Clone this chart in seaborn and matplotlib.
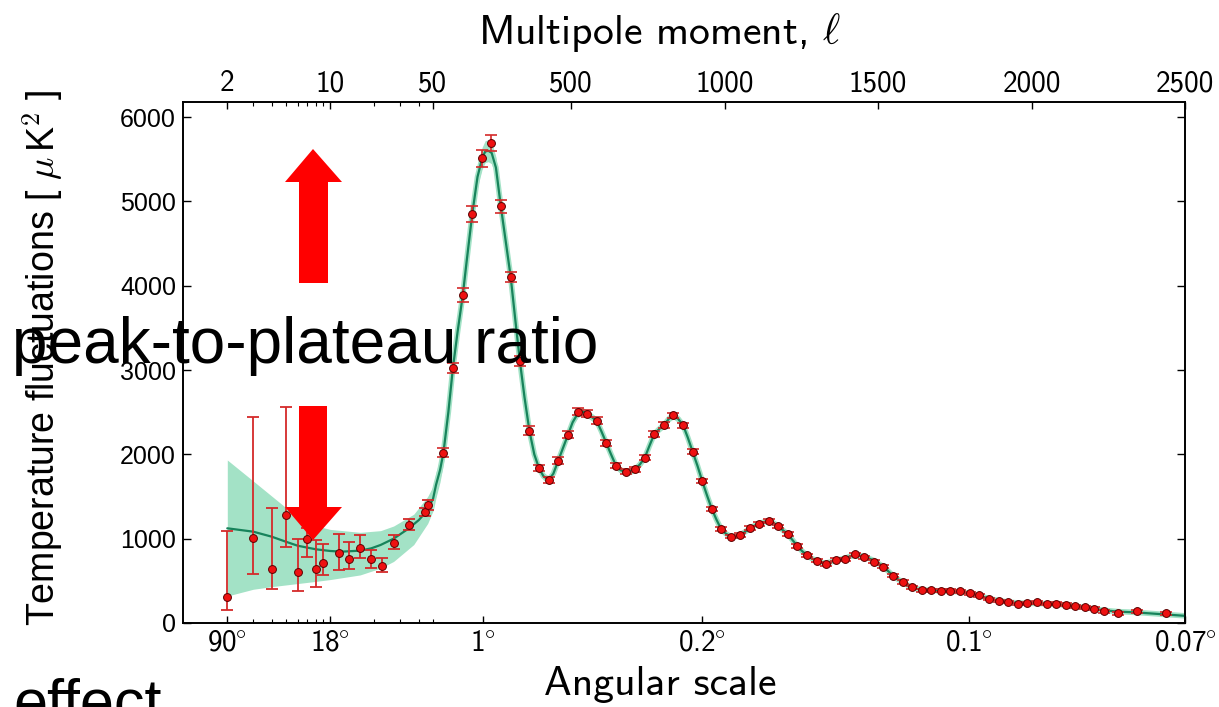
import numpy as np
import matplotlib
matplotlib.use("Agg")
import matplotlib.pyplot as plt
import seaborn as sns
from matplotlib.patches import Polygon
from matplotlib.ticker import FixedLocator, FixedFormatter, NullFormatter

# ---------------- data ----------------
# low-ell binned points with asymmetric error bars
low_l = [2, 3, 4, 5, 6, 7, 8, 9, 11.5, 13.5, 16, 19, 22.4, 27, 34.4, 44, 46.4]
low_d = [305, 1012, 644, 1281, 601, 1000, 640, 711, 834, 759, 893, 755, 680, 949, 1162, 1316, 1403]
low_hi = [1094, 2447, 1364, 2565, 996, 1130, 984, 937, 1055, 957, 1043, 866, 767, 1043, 1229, 1360, 1458]
low_lo = [154, 577, 407, 905, 383, 786, 431, 569, 628, 636, 775, 648, 601, 874, 1103, 1269, 1340]

# high-ell binned points
high_l = [84, 115, 147, 178, 210, 240, 272, 303, 333, 364, 395, 427, 458, 490, 521, 552, 583, 615,
          646, 678, 708, 740, 771, 803, 833, 865, 896, 927, 958, 988, 1020, 1051, 1082, 1113, 1145,
          1175, 1206, 1237, 1268, 1300, 1330, 1362, 1393, 1424, 1455, 1487, 1517, 1549, 1580, 1612,
          1643, 1673, 1705, 1736, 1768, 1800, 1830, 1861, 1893, 1924, 1955, 1986, 2018, 2049, 2081,
          2111, 2143, 2174, 2205, 2237, 2283, 2343, 2438]
high_d = [2019, 3028, 3886, 4854, 5510, 5688, 4941, 4107, 3107, 2281, 1838, 1696, 1925, 2233, 2506,
          2482, 2399, 2131, 1866, 1795, 1822, 1960, 2241, 2348, 2466, 2344, 2032, 1684, 1356, 1119,
          1024, 1044, 1123, 1178, 1213, 1146, 1052, 913, 802, 739, 696, 751, 755, 815, 779, 727, 668,
          561, 486, 423, 391, 387, 383, 383, 376, 352, 328, 285, 261, 249, 225, 237, 245, 225, 229,
          217, 198, 186, 170, 139, 115, 139, 115]
high_err = [55, 60, 85, 95, 100, 93, 80, 60, 55, 50,
            40, 35, 38, 40, 40, 40, 40, 35, 32, 30,
            30, 30, 30, 30, 30, 30, 30, 28, 25, 24,
            22, 22, 22, 22, 22, 22, 22,
            20, 20, 20, 20, 20, 20, 20, 20, 20, 20,
            18, 18, 18, 18, 18, 18, 18, 18, 18, 18,
            16, 16, 16, 16, 16, 16, 16, 16, 16, 16, 16, 16,
            15, 15, 15, 15]

# best-fit theory curve
theory_l = [2, 3, 4, 5, 6, 8, 10, 12, 16, 19, 22, 27, 34, 40, 44, 50, 60, 73, 84, 100, 115, 130, 147,
            160, 178, 195, 210, 220, 230, 241, 255, 271, 287, 303, 318, 333, 348, 364, 380, 395, 410,
            427, 442, 458, 474, 490, 505, 521, 537, 552, 568, 583, 599, 615, 630, 646, 662, 678, 693,
            708, 724, 740, 755, 771, 787, 803, 818, 833, 849, 865, 880, 896, 912, 927, 943, 958, 973,
            988, 1004, 1020, 1035, 1051, 1066, 1082, 1098, 1113, 1129, 1145, 1160, 1175, 1190, 1206,
            1221, 1237, 1252, 1268, 1284, 1300, 1315, 1330, 1346, 1362, 1377, 1393, 1408, 1424, 1440,
            1455, 1471, 1487, 1502, 1517, 1533, 1549, 1564, 1580, 1596, 1612, 1627, 1643, 1673, 1705,
            1736, 1768, 1800, 1830, 1861, 1893, 1924, 1955, 1986, 2018, 2049, 2081, 2111, 2143, 2174,
            2205, 2237, 2283, 2343, 2400, 2438, 2500]
theory_d = [1123, 1083, 1024, 964, 917, 874, 854, 846, 858, 885, 925, 1000, 1118, 1220, 1301, 1470,
            1640, 1814, 2020, 2500, 3028, 3450, 3886, 4300, 4854, 5290, 5510, 5590, 5600, 5575, 5400,
            4941, 4520, 4107, 3600, 3107, 2680, 2281, 2000, 1838, 1740, 1696, 1770, 1925, 2080, 2233,
            2380, 2480, 2510, 2482, 2440, 2399, 2270, 2131, 2000, 1866, 1810, 1795, 1800, 1822, 1880,
            1960, 2100, 2241, 2300, 2348, 2420, 2460, 2420, 2344, 2200, 2032, 1860, 1684, 1510, 1356,
            1230, 1119, 1060, 1024, 1030, 1044, 1080, 1123, 1155, 1178, 1200, 1213, 1185, 1146, 1100,
            1052, 985, 913, 855, 802, 765, 739, 715, 710, 725, 740, 755, 770, 790, 800, 798, 790, 765,
            740, 705, 668, 615, 561, 520, 486, 450, 423, 405, 395, 387, 380, 375, 370, 350, 325, 290,
            265, 248, 238, 235, 232, 228, 222, 212, 198, 183, 168, 150, 135, 125, 110, 100, 85]

# shaded uncertainty band: low ell (asymmetric) and half-width for ell >= 50
band_l = [2, 3, 4, 5, 7.7, 10, 16, 22, 27, 37, 46, 50]
band_lo = [320, 400, 431, 451, 490, 515, 570, 650, 730, 930, 1180, 1330]
band_hi = [1933, 1684, 1506, 1368, 1160, 1110, 1075, 1095, 1150, 1290, 1500, 1620]
hi_sigma = [150, 150, 140, 130, 120, 110, 110, 110, 115, 120,
            125, 130, 130, 130, 130, 125, 115, 105, 95, 85,
            75, 65, 55, 50, 45, 45, 45, 45, 45, 45,
            45, 45, 45, 45, 45, 45, 45, 45, 40, 40,
            40, 40, 40, 40, 40, 40, 40, 40, 40, 40,
            40, 40, 40, 40, 40, 40, 38, 36, 34, 32,
            30, 30, 28, 28, 28, 28, 28, 28, 28, 28,
            28, 28, 28, 28, 26, 26, 26, 26, 26, 26,
            25, 25, 25, 25, 25, 25, 25, 25, 25, 25,
            24, 24, 24, 24, 24, 24, 24, 24, 24, 24,
            22, 22, 22, 22, 22, 22, 22, 22, 22, 22,
            20, 20, 20, 20, 20, 20, 20, 20, 20, 20,
            18, 18, 18, 18, 18, 18, 18, 18, 18]

top_ticks = [2, 10, 50, 500, 1000, 1500, 2000, 2500]
top_labels = ["2", "10", "50", "500", "1000", "1500", "2000", "2500"]
bot_ticks = [2, 10, 213, 926, 1796, 2500]
bot_labels = ["90", "18", "1", "0.2", "0.1", "0.07"]
minor_ticks = [3, 4, 5, 6, 7, 8, 9, 20, 30, 40]
y_ticks = [0, 1000, 2000, 3000, 4000, 5000, 6000]

# ---------------- style ----------------
sns.set_theme(style="white")
plt.rcParams["font.family"] = ["Liberation Sans", "DejaVu Sans"]
plt.rcParams["mathtext.fontset"] = "cm"
CMSS = "cmss10"

W, H = 1219, 707
fig = plt.figure(figsize=(W / 100, H / 100), dpi=100)
ax = fig.add_axes([183 / W, 1 - 623 / H, (1185 - 183) / W, (623 - 102) / H])

# hybrid log / linear multipole scale
K = 147.15
S = 0.30694
L0 = 50.0
U0 = K * np.log10(L0)


def fwd(l):
    l = np.asarray(l, dtype=float)
    lc = np.maximum(l, 1e-6)
    return np.where(l <= L0, K * np.log10(lc), U0 + S * (l - L0))


def inv(u):
    u = np.asarray(u, dtype=float)
    return np.where(u <= U0, 10 ** (np.minimum(u, U0) / K), L0 + (u - U0) / S)


ax.set_xscale("function", functions=(fwd, inv))

GREEN = "#17835b"
BAND = "#a3e2c6"
RED = "#ee1111"
ERR = "#d42a2a"

th_l = np.array(theory_l, dtype=float)
th_d = np.array(theory_d, dtype=float)
sig = np.array(hi_sigma, dtype=float)
ax.fill_between(band_l, band_lo, band_hi, color=BAND, lw=0, zorder=1)
ax.fill_between(th_l[15:], th_d[15:] - sig, th_d[15:] + sig, color=BAND, lw=0, zorder=1)
ax.plot(th_l[15:], th_d[15:], color=BAND, lw=4.0, solid_capstyle="round", zorder=1.5)
sns.lineplot(x=theory_l, y=theory_d, ax=ax, color=GREEN, lw=1.6, zorder=3, sort=False)

ld = np.array(low_d, dtype=float)
ax.errorbar(low_l, low_d, yerr=[ld - np.array(low_lo), np.array(low_hi) - ld], fmt="none",
            ecolor=ERR, elinewidth=1.3, capsize=4.5, capthick=1.3, zorder=4)
ax.errorbar(high_l, high_d, yerr=high_err, fmt="none",
            ecolor=ERR, elinewidth=1.2, capsize=4.5, capthick=1.2, zorder=4)
sns.scatterplot(x=low_l + high_l, y=low_d + high_d, ax=ax, s=32, color=RED,
                edgecolor="#5a0000", linewidth=0.7, zorder=5)

ax.set_xlim(1, 2500)
ax.set_ylim(0, 6178)

# bottom axis: angular scale
ax.xaxis.set_major_locator(FixedLocator(bot_ticks))
ax.xaxis.set_major_formatter(FixedFormatter([t + r"$\hspace{-0.07}^{\circ}$" for t in bot_labels]))
ax.xaxis.set_minor_locator(FixedLocator(minor_ticks + [50]))
ax.xaxis.set_minor_formatter(NullFormatter())
ax.set_yticks(y_ticks)
ax.set_yticklabels([str(v) for v in y_ticks])
ax.tick_params(axis="x", which="major", direction="in", length=5, width=1.0,
               labelsize=21, pad=5, colors="black", top=False, bottom=True)
ax.tick_params(axis="x", which="minor", direction="in", length=3, width=0.8,
               top=False, bottom=True, colors="black")
ax.tick_params(axis="y", which="major", direction="in", length=6, width=1.0,
               labelsize=18, pad=5, left=True, right=True, colors="black")
for t in ax.get_xticklabels():
    t.set_fontfamily(CMSS)
ax.set_xlabel("Angular scale", fontsize=30, color="black", fontfamily=CMSS)
ax.xaxis.set_label_coords(0.476, -0.083)
ax.set_ylabel(r"Temperature fluctuations [ $\mu\,$K$^2$ ]", fontsize=27, color="black")
ax.yaxis.set_label_coords(-0.118, 0.51)

# top axis: multipole moment
ax2 = ax.twiny()
ax2.set_xscale("function", functions=(fwd, inv))
ax2.set_xlim(1, 2500)
ax2.xaxis.set_major_locator(FixedLocator(top_ticks))
ax2.xaxis.set_major_formatter(FixedFormatter(top_labels))
ax2.xaxis.set_minor_locator(FixedLocator(minor_ticks))
ax2.xaxis.set_minor_formatter(NullFormatter())
ax2.tick_params(axis="x", which="major", direction="in", length=5, width=1.0,
                labelsize=21, pad=3.5, colors="black", top=True, bottom=False)
ax2.tick_params(axis="x", which="minor", direction="in", length=3, width=0.8,
                top=True, bottom=False, colors="black")
for t in ax2.get_xticklabels():
    t.set_fontfamily(CMSS)
ax2.set_xlabel(r"Multipole moment, $\ell$", fontsize=30, color="black", fontfamily=CMSS)
ax2.xaxis.set_label_coords(0.476, 1.112)

for a in (ax, ax2):
    for sp in a.spines.values():
        sp.set_color("black")
        sp.set_linewidth(1.2)
        sp.set_visible(True)


# arrows (figure-pixel decoration)
def px(x, y):
    return (x / W, 1 - y / H)


up = [px(299, 283), px(299, 182), px(285, 182), px(313, 149), px(342, 182), px(328, 182), px(328, 283)]
down = [px(299, 406), px(299, 507), px(285, 507), px(313, 540), px(342, 507), px(327, 507), px(327, 406)]
for verts in (up, down):
    fig.add_artist(Polygon(verts, closed=True, transform=fig.transFigure,
                           facecolor="#ff0000", edgecolor="none", zorder=10))

fig.text(12 / W, 1 - 363 / H, "peak-to-plateau ratio", fontsize=46, color="black",
         family="Liberation Sans", va="baseline", ha="left", zorder=11)
fig.text(13 / W, 1 - 722 / H, "effect", fontsize=44, color="black",
         family="Liberation Sans", va="baseline", ha="left", zorder=11)

fig.savefig("out.png", dpi=100)
